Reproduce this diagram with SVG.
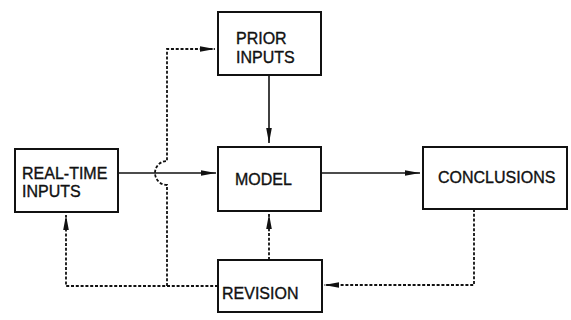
<svg xmlns="http://www.w3.org/2000/svg" width="571" height="320" viewBox="0 0 571 320">
<style>
.box{fill:#fff;stroke:#111;stroke-width:2}
.lbl{font-family:"Liberation Sans",Arial,sans-serif;font-size:16px;fill:#111;stroke:#111;stroke-width:0.35}
.ln{fill:none;stroke:#111;stroke-width:1.6}
.dash{fill:none;stroke:#111;stroke-width:1.8;stroke-dasharray:3 1.8}
</style>
<defs>
<marker id="ah" markerUnits="userSpaceOnUse" markerWidth="16" markerHeight="8" refX="15" refY="4" orient="auto">
<path d="M0,1.2 L15,4 L0,6.8 Z" fill="#111"/>
</marker>
</defs>
<rect width="571" height="320" fill="#fff"/>
<g id="connectors">
<path class="ln" d="M269,75 V143" marker-end="url(#ah)"/>
<path class="ln" d="M118,173 H216" marker-end="url(#ah)"/>
<path class="ln" d="M321,173 H420" marker-end="url(#ah)"/>
<path class="dash" d="M474,209 V285 H324" marker-end="url(#ah)"/>
<path class="dash" d="M269,260 V214" marker-end="url(#ah)"/>
<path class="dash" d="M218,286 H66 V215" marker-end="url(#ah)"/>
<path class="dash" d="M167,286 V185 A12,12 0 0 1 167,161 V49 H215" marker-end="url(#ah)"/>
</g>
<g id="prior-inputs">
<rect class="box" x="218" y="12" width="103" height="63"/>
<text class="lbl" x="236" y="44">PRIOR</text>
<text class="lbl" x="236" y="63">INPUTS</text>
</g>
<g id="real-time-inputs">
<rect class="box" x="15" y="149" width="103" height="63"/>
<text class="lbl" x="22" y="179">REAL-TIME</text>
<text class="lbl" x="22" y="197">INPUTS</text>
</g>
<g id="model">
<rect class="box" x="218" y="147" width="103" height="64"/>
<text class="lbl" x="235" y="185">MODEL</text>
</g>
<g id="conclusions">
<rect class="box" x="423" y="147" width="144" height="62"/>
<text class="lbl" x="438" y="183">CONCLUSIONS</text>
</g>
<g id="revision">
<rect class="box" x="218" y="260" width="104" height="52"/>
<text class="lbl" x="222" y="299">REVISION</text>
</g>
</svg>
